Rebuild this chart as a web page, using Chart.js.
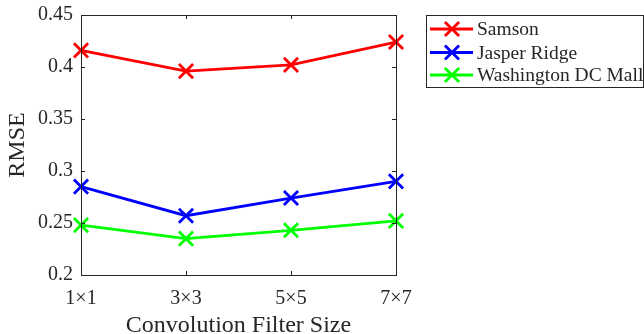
<!DOCTYPE html>
<html><head><meta charset="utf-8">
<script src="https://cdn.jsdelivr.net/npm/chart.js@4/dist/chart.umd.min.js"></script>
<style>html,body{margin:0;padding:0;background:#fff;}#wrap{width:644px;height:334px;}</style>
</head><body><div id="wrap"><canvas id="c" width="644" height="334"></canvas></div>
<script>
const categories = ["1\u00d71", "3\u00d73", "5\u00d75", "7\u00d77"];
const samson = [0.416, 0.396, 0.402, 0.424];
const jasperRidge = [0.285, 0.257, 0.274, 0.290];
const washingtonDC = [0.248, 0.235, 0.243, 0.252];
const seriesNames = ["Samson", "Jasper Ridge", "Washington DC Mall"];
const yTicks = [0.2, 0.25, 0.3, 0.35, 0.4, 0.45];

const FONT = "'Liberation Serif', 'Times New Roman', serif";
const AX = '#262626';

function ds(label, data, color) {
  return {label, data, borderColor: color, backgroundColor: color, borderWidth: 2.8,
    pointStyle: 'crossRot', pointRadius: 10, pointHoverRadius: 10, pointBorderWidth: 2.8, tension: 0};
}

const boxPlugin = {
  id: 'boxPlugin',
  afterDraw(chart) {
    const ctx = chart.ctx, a = chart.chartArea;
    const xs = chart.scales.x, ys = chart.scales.y;
    ctx.save();
    ctx.strokeStyle = AX; ctx.lineWidth = 1;
    ctx.strokeRect(Math.round(a.left) + 0.5, Math.round(a.top) + 0.5, Math.round(a.right - a.left), Math.round(a.bottom - a.top));
    const tl = 4;
    ctx.beginPath();
    yTicks.forEach(v => {
      const y = Math.round(ys.getPixelForValue(v)) + 0.5;
      ctx.moveTo(a.left, y); ctx.lineTo(a.left + tl, y);
      ctx.moveTo(a.right, y); ctx.lineTo(a.right - tl, y);
    });
    categories.forEach((c, i) => {
      const x = Math.round(xs.getPixelForValue(i)) + 0.5;
      ctx.moveTo(x, a.bottom); ctx.lineTo(x, a.bottom - tl);
      ctx.moveTo(x, a.top); ctx.lineTo(x, a.top + tl);
    });
    ctx.stroke();
    // legend
    const lx = 426, ly = 15, lw = 217, lh = 72;
    ctx.fillStyle = '#fff';
    ctx.fillRect(lx, ly, lw, lh);
    ctx.strokeStyle = AX; ctx.lineWidth = 1;
    ctx.strokeRect(lx + 0.5, ly + 0.5, lw, lh);
    const rows = [29, 52.5, 75];
    chart.data.datasets.forEach((d, i) => {
      const y = rows[i];
      ctx.strokeStyle = d.borderColor; ctx.lineWidth = 2.8;
      ctx.beginPath(); ctx.moveTo(430, y); ctx.lineTo(473, y); ctx.stroke();
      const cx = 452, r = 10 * Math.SQRT1_2;
      ctx.beginPath();
      ctx.moveTo(cx - r, y - r); ctx.lineTo(cx + r, y + r);
      ctx.moveTo(cx - r, y + r); ctx.lineTo(cx + r, y - r);
      ctx.stroke();
      ctx.fillStyle = AX; ctx.font = '19.5px ' + FONT;
      ctx.textBaseline = 'middle'; ctx.textAlign = 'left';
      ctx.fillText(d.label, 477, y + 1);
    });
    ctx.restore();
  }
};

new Chart(document.getElementById('c'), {
  type: 'line',
  data: {
    labels: categories,
    datasets: [
      ds(seriesNames[0], samson, '#ff0000'),
      ds(seriesNames[1], jasperRidge, '#0000ff'),
      ds(seriesNames[2], washingtonDC, '#00ff00')
    ]
  },
  options: {
    responsive: false, animation: false, devicePixelRatio: 1,
    layout: {padding: {left: 0, right: 248, top: 15, bottom: 0}},
    plugins: {legend: {display: false}, tooltip: {enabled: false}},
    scales: {
      x: {
        type: 'category', offset: false,
        grid: {display: false, drawTicks: false},
        border: {display: false},
        ticks: {color: AX, font: {family: FONT, size: 20}, padding: 12, maxRotation: 0, autoSkip: false},
        title: {display: true, text: 'Convolution Filter Size', color: AX, font: {family: FONT, size: 24, lineHeight: 0.65}, padding: {top: 9, bottom: 0}},
        afterFit(s) { s.height = 59; s.paddingLeft = 0; s.paddingRight = 0; }
      },
      y: {
        min: 0.2, max: 0.45,
        afterBuildTicks(s) { s.ticks = yTicks.map(v => ({value: v})); },
        grid: {display: false, drawTicks: false},
        border: {display: false},
        ticks: {color: AX, font: {family: FONT, size: 20}, padding: 8, callback: v => String(v)},
        title: {display: true, text: 'RMSE', color: AX, font: {family: FONT, size: 24}, padding: {top: 3, bottom: 0}},
        afterFit(s) { s.width = 81; s.paddingTop = 0; s.paddingBottom = 0; }
      }
    }
  },
  plugins: [boxPlugin]
});
</script></body></html>
